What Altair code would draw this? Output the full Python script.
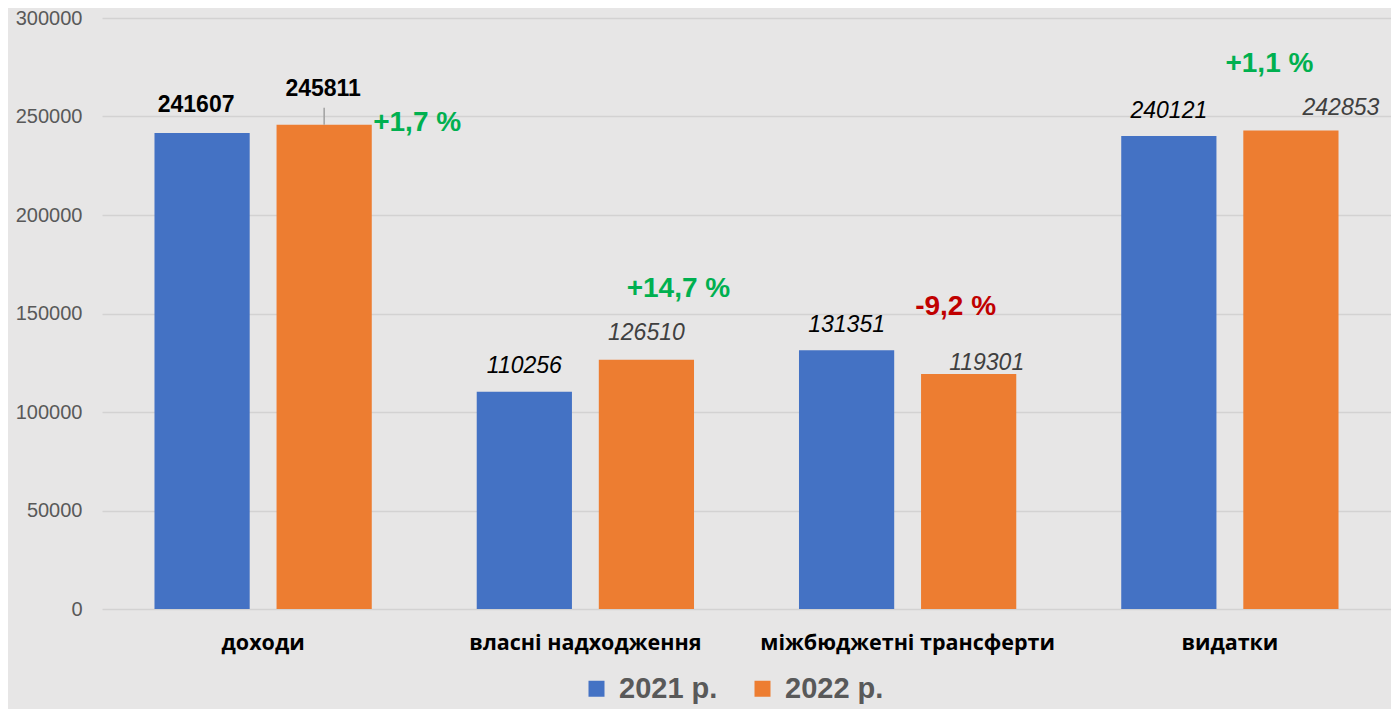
import altair as alt
import pandas as pd

categories = ["доходи", "власні надходження", "міжбюджетні трансферти", "видатки"]
years = ["2021 р.", "2022 р."]
values_2021 = [241607, 110256, 131351, 240121]
values_2022 = [245811, 126510, 119301, 242853]
changes = ["+1,7 %", "+14,7 %", "-9,2 %", "+1,1 %"]
change_colors = ["#00b050", "#00b050", "#c00000", "#00b050"]

rows = []
for i, c in enumerate(categories):
    rows.append(dict(cat=c, year=years[0], value=values_2021[i], label=str(values_2021[i])))
    rows.append(dict(cat=c, year=years[1], value=values_2022[i], label=str(values_2022[i])))
df = pd.DataFrame(rows)
pct_df = pd.DataFrame(dict(cat=categories, year=[years[1]] * 4, value=values_2022, label=changes))

x = alt.X("cat:N", sort=categories, title=None,
          scale=alt.Scale(paddingInner=0, paddingOuter=0),
          axis=alt.Axis(labelAngle=0, labelFont="Open Sans", labelFontWeight="bold",
                        labelFontSize=21.5, labelColor="#000000", labelPadding=23,
                        labelLimit=0, domain=False, ticks=False, grid=False))
xo = alt.XOffset("year:N", sort=years, scale=alt.Scale(paddingInner=0.22, paddingOuter=0.43))
y = alt.Y("value:Q", title=None, scale=alt.Scale(domain=[0, 300000]),
          axis=alt.Axis(values=list(range(0, 300001, 50000)), format="d",
                        labelFont="Liberation Sans",
                        labelFontSize=20, labelColor="#595959", labelPadding=20,
                        domain=False, ticks=False, grid=True, gridColor="#d3d2d2",
                        gridWidth=1.5))
color = alt.Color("year:N", sort=years,
                  scale=alt.Scale(domain=years, range=["#4472c4", "#ed7d31"]),
                  legend=alt.Legend(orient="none", legendX=480, legendY=656,
                                    direction="horizontal", title=None,
                                    symbolType="square", symbolSize=256,
                                    symbolStrokeWidth=0, labelFont="Liberation Sans",
                                    labelFontSize=29, labelFontWeight="bold",
                                    labelColor="#595959", labelOffset=8,
                                    columnPadding=30))

bars = alt.Chart(df).mark_bar().encode(x=x, xOffset=xo, y=y, color=color)

# value-label layout: (category index, year index) -> (dx, dy, weight, style, color)
label_layout = [
    (0, 0, -6, -28, "bold", "normal", "#000000"),
    (0, 1, -1, -36, "bold", "normal", "#000000"),
    (1, 0, 0, -26, "normal", "italic", "#000000"),
    (1, 1, 0, -27, "normal", "italic", "#404040"),
    (2, 0, 0, -25, "normal", "italic", "#000000"),
    (2, 1, 18, -11, "normal", "italic", "#404040"),
    (3, 0, 0, -24.5, "normal", "italic", "#000000"),
    (3, 1, 50, -23, "normal", "italic", "#404040"),
]
layers = [bars]
for ci, yi, dx, dy, fw, fs, col in label_layout:
    layers.append(
        alt.Chart(df).transform_filter(
            (alt.datum.cat == categories[ci]) & (alt.datum.year == years[yi])
        ).mark_text(dx=dx, dy=dy, baseline="middle", align="center",
                    font="Liberation Sans", fontSize=23, fontWeight=fw,
                    fontStyle=fs, color=col).encode(x=x, xOffset=xo, y=y, text="label:N")
    )

# leader line for first orange label
layers.append(
    alt.Chart(df).transform_filter(
        (alt.datum.cat == categories[0]) & (alt.datum.year == years[1])
    ).mark_rule(color="#a0a0a0", strokeWidth=1.5, y2Offset=-17).encode(
        x=x, xOffset=xo, y=y, y2="value:Q")
)

pct_layout = [(93, -2), (32, -71), (-13, -66.5), (-21.5, -67)]
for i, (dx, dy) in enumerate(pct_layout):
    layers.append(
        alt.Chart(pct_df).transform_filter(alt.datum.cat == categories[i]).mark_text(
            dx=dx, dy=dy, baseline="middle", align="center", font="Liberation Sans",
            fontSize=28, fontWeight="bold", color=change_colors[i]
        ).encode(x=x, xOffset=xo, y=y, text="label:N")
    )

chart = alt.layer(*layers).properties(
    width=1289, height=591,
    autosize=alt.AutoSizeParams(type="none"),
    padding={"left": 94, "top": 10, "right": 0, "bottom": 100},
    background="#e7e6e6",
).configure_view(stroke=None)

chart.save("out.html", embed_options={"renderer": "svg", "actions": False})
